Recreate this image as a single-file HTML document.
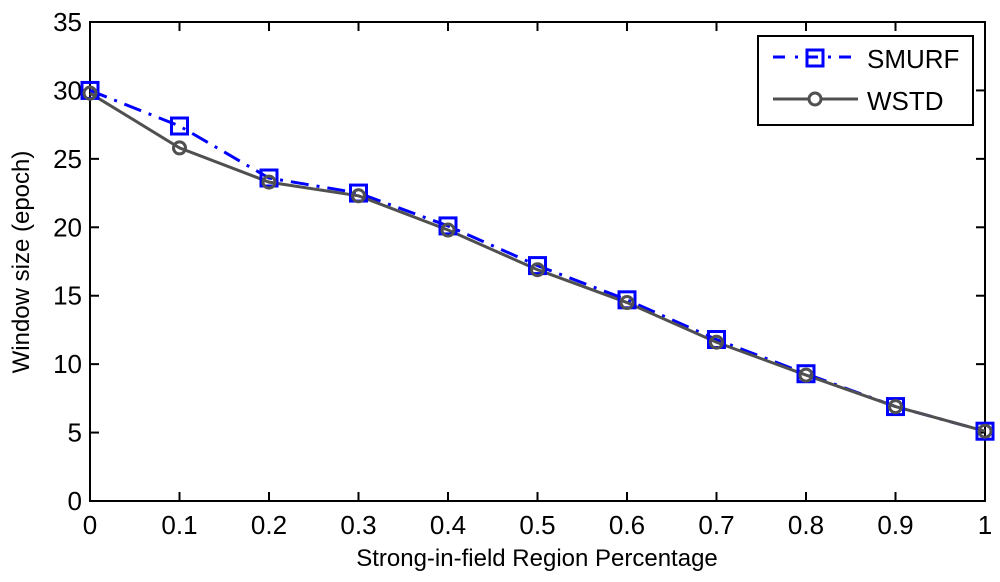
<!DOCTYPE html>
<html><head><meta charset="utf-8"><style>
body{margin:0;background:#fff}
svg{display:block;font-family:"Liberation Sans",sans-serif}
</style></head><body>
<svg id="c" width="1000" height="582"></svg>
<script>
const xTicks=[0,0.1,0.2,0.3,0.4,0.5,0.6,0.7,0.8,0.9,1];
const xLabels=["0","0.1","0.2","0.3","0.4","0.5","0.6","0.7","0.8","0.9","1"];
const yTicks=[0,5,10,15,20,25,30,35];
const xVals=[0,0.1,0.2,0.3,0.4,0.5,0.6,0.7,0.8,0.9,1];
const smurf=[30,27.4,23.6,22.5,20.1,17.2,14.7,11.8,9.3,6.9,5.1];
const wstd=[29.8,25.8,23.3,22.3,19.8,16.9,14.5,11.6,9.2,6.9,5.1];
const L=90,R=985,T=22,B=501;
const sx=v=>L+(R-L)*v, sy=v=>B-(B-T)*v/35;
const svg=document.getElementById('c');const NS='http://www.w3.org/2000/svg';
function el(t,a,p){const e=document.createElementNS(NS,t);for(const k in a)e.setAttribute(k,a[k]);(p||svg).appendChild(e);return e;}
let e=el('rect',{x:L,y:T,width:R-L,height:B-T,fill:'none',stroke:'#000','stroke-width':2});


xTicks.forEach((v,i)=>{
 el('line',{x1:sx(v),x2:sx(v),y1:B,y2:B-9,stroke:'#000','stroke-width':2});
 el('line',{x1:sx(v),x2:sx(v),y1:T,y2:T+9,stroke:'#000','stroke-width':2});
 const t=el('text',{x:sx(v),y:B+33,'font-size':26,'text-anchor':'middle'});t.textContent=xLabels[i];
 
 
});
yTicks.forEach(v=>{
 el('line',{x1:L,x2:L+9,y1:sy(v),y2:sy(v),stroke:'#000','stroke-width':2});
 el('line',{x1:R,x2:R-9,y1:sy(v),y2:sy(v),stroke:'#000','stroke-width':2});
 const t=el('text',{x:L-8,y:sy(v)+9,'font-size':26,'text-anchor':'end'});t.textContent=v;
 
 
});
let p=el('polyline',{points:xVals.map((x,i)=>sx(x)+','+sy(smurf[i])).join(' '),fill:'none',stroke:'#0000ff','stroke-width':3,'stroke-dasharray':'18 8 3 8'});


p=el('polyline',{points:xVals.map((x,i)=>sx(x)+','+sy(wstd[i])).join(' '),fill:'none',stroke:'#505050','stroke-width':3});


xVals.forEach((x,i)=>{
 const m=el('rect',{x:sx(x)-8,y:sy(smurf[i])-8,width:16,height:16,fill:'none',stroke:'#0000ff','stroke-width':3});
 
 
 const c=el('circle',{cx:sx(x),cy:sy(wstd[i]),r:6,fill:'none',stroke:'#505050','stroke-width':3});
 
 
});
const lg=el('g',{});


el('rect',{x:758,y:36,width:215,height:89,fill:'#fff',stroke:'#000','stroke-width':2},lg);
el('line',{x1:773,x2:858,y1:57,y2:57,stroke:'#0000ff','stroke-width':3,'stroke-dasharray':'12 10 3 8'},lg);
el('rect',{x:807,y:50,width:16,height:16,fill:'none',stroke:'#0000ff','stroke-width':3},lg);
el('line',{x1:773,x2:858,y1:99,y2:99,stroke:'#505050','stroke-width':3},lg);
el('circle',{cx:815,cy:99,r:6,fill:'#fff',stroke:'#505050','stroke-width':3},lg);
let t=el('text',{x:867,y:68,'font-size':26},lg);t.textContent='SMURF';


t=el('text',{x:867,y:110,'font-size':26},lg);t.textContent='WSTD';


t=el('text',{x:537,y:566,'font-size':24,'text-anchor':'middle'});t.textContent='Strong-in-field Region Percentage';


t=el('text',{x:0,y:0,'font-size':24,'text-anchor':'middle',transform:'translate(29,262) rotate(-90)'});t.textContent='Window size (epoch)';


</script>
</body></html>
